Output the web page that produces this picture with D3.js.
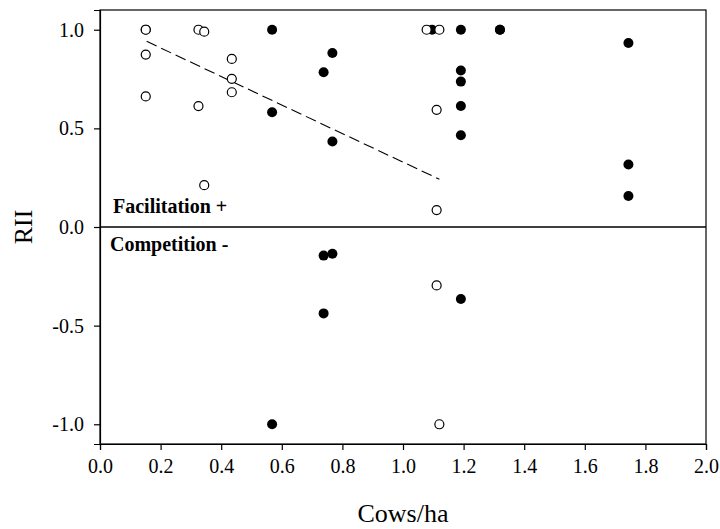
<!DOCTYPE html>
<html><head><meta charset="utf-8">
<script src="https://cdn.jsdelivr.net/npm/d3@7"></script>
<style>body{margin:0;background:#fff} svg text{font-family:"Liberation Serif","Times New Roman",serif;}</style>
</head><body>
<svg id="c" width="720" height="529"></svg>
<script>
// Open circles (series 1)
const openX = [0.151, 0.151, 0.325, 0.344, 0.151, 0.151, 0.325, 0.435, 0.435, 0.435, 0.344, 1.078, 1.12, 1.111, 1.111, 1.111, 1.12];
const openY = [1.0, 1.0, 1.0, 0.99, 0.874, 0.662, 0.613, 0.852, 0.751, 0.683, 0.212, 1.0, 1.0, 0.594, 0.086, -0.296, -1.0];
// Filled circles (series 2)
const fillX = [0.568, 0.568, 0.767, 0.738, 0.767, 1.096, 1.191, 1.32, 1.32, 1.744, 1.191, 1.191, 1.191, 1.191, 1.744, 1.744, 0.738, 0.767, 0.738, 1.191, 0.568];
const fillY = [1.0, 0.582, 0.882, 0.784, 0.433, 1.0, 1.0, 1.0, 1.0, 0.933, 0.793, 0.737, 0.613, 0.465, 0.317, 0.157, -0.145, -0.136, -0.438, -0.365, -1.0];
// Trend line (regression) endpoints
const trendX = [0.154, 1.12];
const trendY = [0.941, 0.242];
const xTicks = [0, 0.2, 0.4, 0.6, 0.8, 1.0, 1.2, 1.4, 1.6, 1.8, 2.0];
const yTicks = [-1.0, -0.5, 0.0, 0.5, 1.0];

const svg = d3.select("#c");
const L = 100, R = 706, T = 10, B = 444;
const x = d3.scaleLinear().domain([0, 2]).range([L, R]);
const y = d3.scaleLinear().domain([-1.1, 1.1]).range([B, T]);
const font = '"Liberation Serif","Times New Roman",serif';

// frame
svg.append("rect").attr("x", L).attr("y", T).attr("width", R - L).attr("height", B - T)
  .attr("fill", "none").attr("stroke", "#000").attr("stroke-width", 1.2);

const xa = svg.append("g").attr("transform", `translate(0,${B})`)
  .call(d3.axisBottom(x).tickValues(xTicks).tickFormat(d3.format(".1f")).tickSize(6).tickPadding(9));
const ya = svg.append("g").attr("transform", `translate(${L},0)`)
  .call(d3.axisLeft(y).tickValues(yTicks).tickFormat(d3.format(".1f")).tickSize(6).tickPadding(10));
[xa, ya].forEach(a => {
  a.attr("font-family", null).attr("font-size", null);
  a.select(".domain").attr("stroke", "#000").attr("stroke-width", 1.2);
  a.selectAll(".tick line").attr("stroke", "#000").attr("stroke-width", 1.2);
  a.selectAll("text").style("font-family", font).style("font-size", "20px").attr("fill", "#000");
});
ya.selectAll("text").text(d => d3.format(".1f")(d).replace("\u2212", "-"));

// zero line
svg.append("line").attr("x1", L).attr("x2", R).attr("y1", y(0)).attr("y2", y(0))
  .attr("stroke", "#000").attr("stroke-width", 1.4);

// trend line
svg.append("line").attr("x1", x(trendX[0])).attr("y1", y(trendY[0]))
  .attr("x2", x(trendX[1])).attr("y2", y(trendY[1]))
  .attr("stroke", "#000").attr("stroke-width", 1.1).attr("stroke-dasharray", "11,5");

// points
svg.append("g").selectAll("circle").data(fillX.map((v, i) => [v, fillY[i]])).join("circle")
  .attr("cx", d => x(d[0])).attr("cy", d => y(d[1])).attr("r", 5).attr("fill", "#000");
svg.append("g").selectAll("circle").data(openX.map((v, i) => [v, openY[i]])).join("circle")
  .attr("cx", d => x(d[0])).attr("cy", d => y(d[1])).attr("r", 4.5)
  .attr("fill", "#fff").attr("stroke", "#000").attr("stroke-width", 1.2);

// annotations
svg.append("text").attr("x", 113).attr("y", 213).style("font-family", font)
  .attr("font-weight", "bold").style("font-size", "20px").text("Facilitation +");
svg.append("text").attr("x", 110).attr("y", 251).style("font-family", font)
  .attr("font-weight", "bold").style("font-size", "20px").text("Competition -");

// axis titles
svg.append("text").attr("x", (L + R) / 2).attr("y", 522).attr("text-anchor", "middle")
  .style("font-family", font).style("font-size", "26px").text("Cows/ha");
svg.append("text").attr("transform", `translate(32,${y(0)}) rotate(-90)`).attr("text-anchor", "middle")
  .style("font-family", font).style("font-size", "26px").text("RII");
</script>
</body></html>
